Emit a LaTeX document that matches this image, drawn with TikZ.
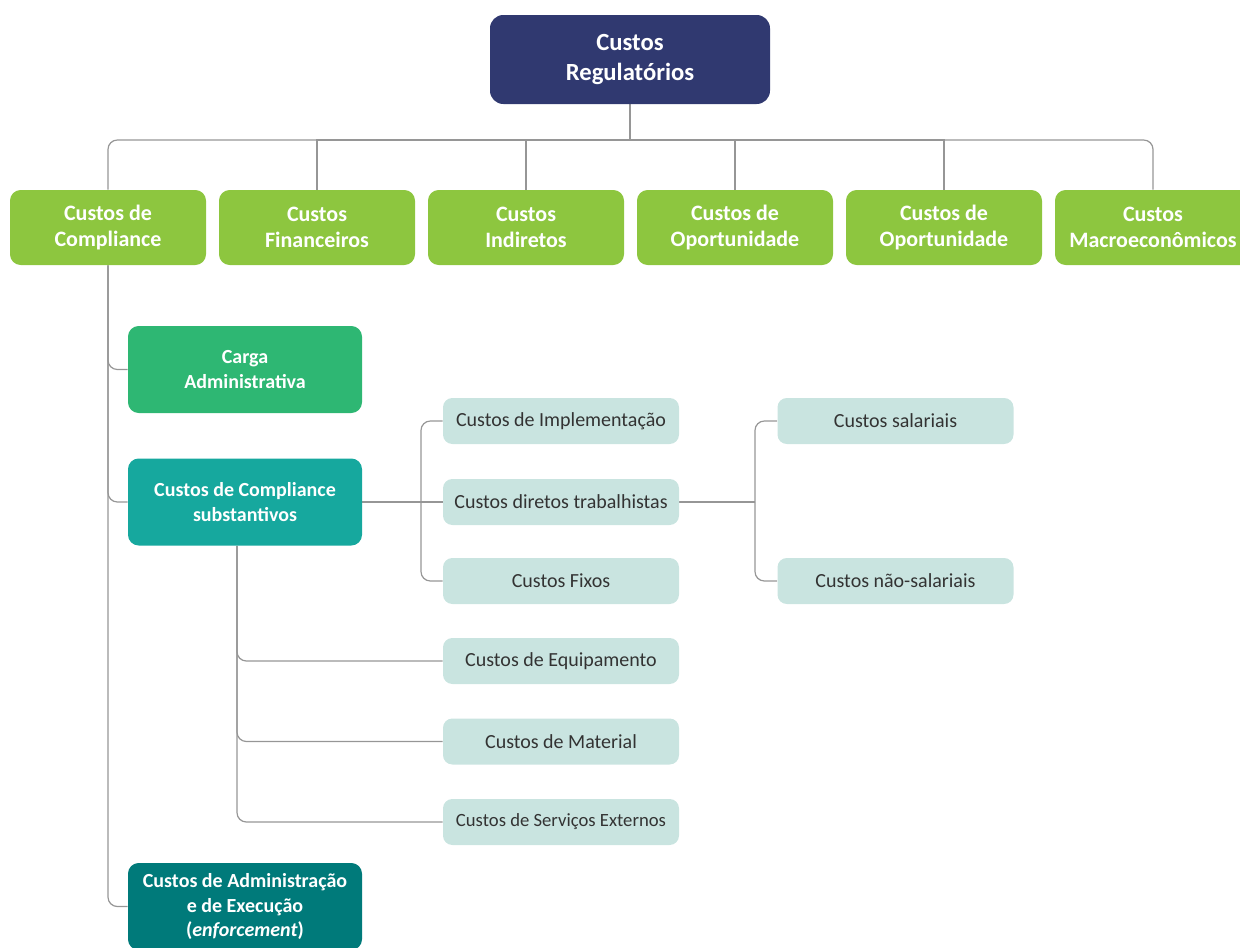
\documentclass[tikz,border=0pt]{standalone}
\usepackage{fontspec}
\setmainfont{Carlito}
\usetikzlibrary{backgrounds}

\definecolor{navy}{RGB}{48,57,112}
\definecolor{leafgreen}{RGB}{141,198,63}
\definecolor{midgreen}{RGB}{46,183,115}
\definecolor{tealA}{RGB}{22,168,158}
\definecolor{tealB}{RGB}{0,122,122}
\definecolor{pale}{RGB}{201,228,224}
\definecolor{linegray}{RGB}{150,150,150}

\begin{document}
\begin{tikzpicture}[x=0.75pt,y=-0.75pt,
  rootbox/.style={fill=navy,text=white,rounded corners=10pt,minimum width=210pt,
    minimum height=66.75pt,align=center,font=\fontsize{18.5}{22.5}\selectfont\bfseries},
  topbox/.style={fill=leafgreen,text=white,rounded corners=8pt,minimum width=147pt,
    minimum height=56.25pt,align=center,font=\fontsize{16.5}{20}\selectfont\bfseries},
  subbox/.style={text=white,rounded corners=8pt,minimum width=175.5pt,
    minimum height=65.25pt,align=center,font=\fontsize{15}{18.5}\selectfont\bfseries},
  itembox/.style={fill=pale,text=black!80,rounded corners=7pt,minimum width=177pt,
    minimum height=34.5pt,font=\fontsize{15}{18}\selectfont},
  link/.style={draw=linegray,line width=0.9pt},
  elbow/.style={link,rounded corners=7pt}]

  \useasboundingbox (0,0) rectangle (1240,947);

  % Root and first level
  \node [rootbox] at (630,59.5) (top) {Custos\\Regulatórios};
  \node [topbox] at (108,227.5) (comp) {Custos de\\Compliance};
  \node [topbox] at (317,227.5) (fin) {Custos\\Financeiros};
  \node [topbox] at (526,227.5) (ind) {Custos\\Indiretos};
  \node [topbox] at (735,227.5) (opA) {Custos de\\Oportunidade};
  \node [topbox] at (944,227.5) (opB) {Custos de\\Oportunidade};
  \node [topbox] at (1153,227.5) (macro) {Custos\\Macroeconômicos};

  % Compliance and its parts
  \node [subbox, fill=midgreen] at (245,369.5) (carga) {Carga\\Administrativa};
  \node [subbox, fill=tealA] at (245,502) (subst) {Custos de Compliance\\substantivos};
  \node [subbox, fill=tealB] at (245,906.5) (adm)
    {Custos de Administração\\e de Execução\\(\textit{enforcement})};

  \node [itembox] at (561,421) (impl) {Custos de Implementação};
  \node [itembox] at (561,502) (dir) {Custos diretos trabalhistas};
  \node [itembox] at (561,581) (fix) {Custos Fixos};
  \node [itembox] at (561,661) (equip) {Custos de Equipamento};
  \node [itembox] at (561,741.5) (mat) {Custos de Material};
  \node [itembox, font=\fontsize{14}{17}\selectfont] at (561,822) (serv)
    {Custos de Serviços Externos};

  \node [itembox] at (895.5,421) (sal) {Custos salariais};
  \node [itembox] at (895.5,581) (nsal) {Custos não-salariais};

  \begin{pgfonlayer}{background}
    \coordinate (bus) at (630,140);
    \draw [link] (top) -- (bus);
    \draw [elbow] (bus) -| (comp);
    \draw [elbow] (bus) -| (macro);
    \foreach \n in {fin,ind,opA,opB}
      \draw [link] (bus) -| (\n);

    \foreach \n in {carga,subst,adm}
      \draw [elbow] (comp) |- (\n);

    \coordinate (jA) at (421,502);
    \draw [link] (subst) -- (dir);
    \draw [elbow] (jA) |- (impl);
    \draw [elbow] (jA) |- (fix);

    \coordinate (jB) at ([xshift=-6pt]subst.south);
    \foreach \n in {equip,mat,serv}
      \draw [elbow] (jB) |- (\n);

    \coordinate (jC) at (755,502);
    \draw [link] (dir) -- (jC);
    \draw [elbow] (jC) |- (sal);
    \draw [elbow] (jC) |- (nsal);
  \end{pgfonlayer}

\end{tikzpicture}
\end{document}
